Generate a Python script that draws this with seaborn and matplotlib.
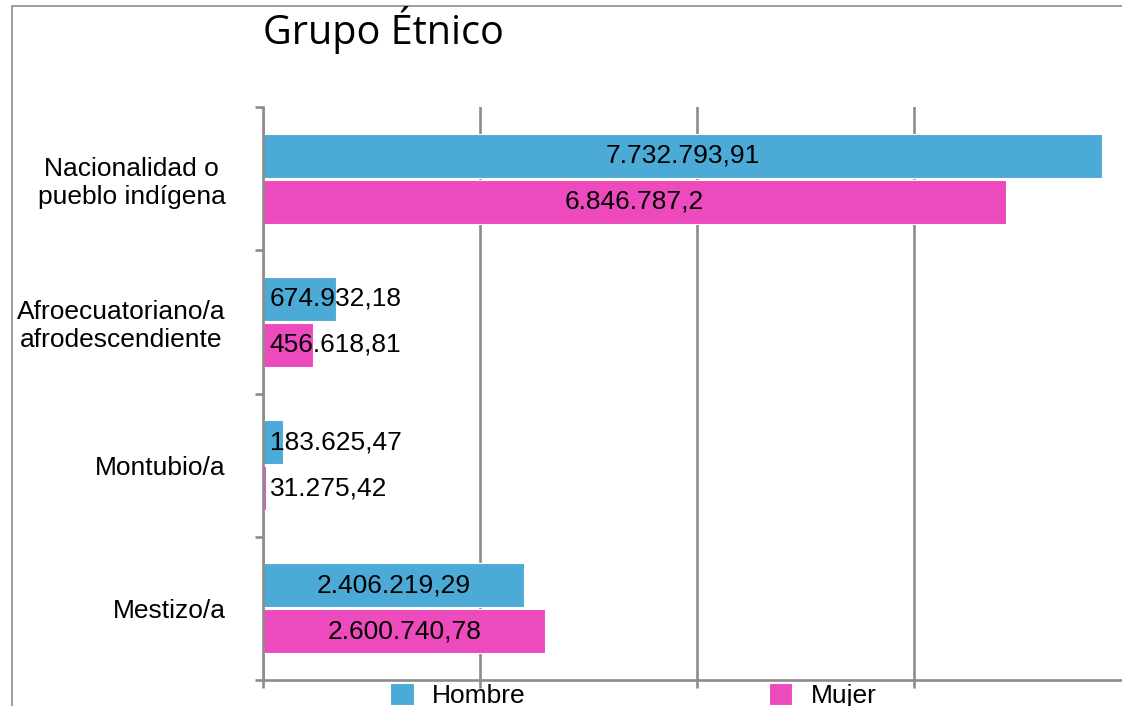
import numpy as np
import pandas as pd
import matplotlib
matplotlib.use("Agg")
import matplotlib.pyplot as plt
from matplotlib.patches import Rectangle
from matplotlib.ticker import FixedLocator
import seaborn as sns

# ------------------------------------------------------
# Data
# ------------------------------------------------------
categories = ["Nacionalidad o\npueblo indígena", "Afroecuatoriano/a\nafrodescendiente",
              "Montubio/a", "Mestizo/a"]
hombre = [7732793.91, 674932.18, 183625.47, 2406219.29]
mujer = [6846787.20, 456618.81, 31275.42, 2600740.78]
series = ["Hombre", "Mujer"]
colors = {"Hombre": "#4BAAD6", "Mujer": "#EC4ABD"}

df = pd.DataFrame({
    "grupo": categories * 2,
    "sexo": ["Hombre"] * 4 + ["Mujer"] * 4,
    "valor": hombre + mujer,
})


def es_format(v):
    s = f"{v:,.2f}".rstrip("0").rstrip(".")
    return s.replace(",", "X").replace(".", ",").replace("X", ".")


# ------------------------------------------------------
# Figure
# ------------------------------------------------------
sns.set_theme(style="white")
plt.rcParams["font.family"] = ["Liberation Sans", "DejaVu Sans"]
plt.rcParams["text.color"] = "black"
plt.rcParams["ytick.labelcolor"] = "black"

W, H = 1122, 706
fig = plt.figure(figsize=(W / 100, H / 100), dpi=100)
ax = fig.add_axes([263 / W, 1 - 680 / H, (1131 - 263) / W, (680 - 107) / H])

grid_c = "#8c8c8c"
fs = 19
ax.set_xlim(0, 8_000_000)
ax.set_axisbelow(True)
ax.xaxis.grid(True, color=grid_c, lw=1.9)

sns.barplot(data=df, y="grupo", x="valor", hue="sexo", orient="h",
            palette=colors, saturation=1, width=0.64, gap=0.04, ax=ax, legend=True,
            edgecolor="white", linewidth=0.8)
ax.set_ylim(3.5, -0.5)

# value labels: centred when the bar is wide, else from the bar start
for cont in ax.containers:
    for p in cont.patches:
        v = p.get_width()
        yc = p.get_y() + p.get_height() / 2
        if v >= 1_000_000:
            ax.text(v / 2, yc, es_format(v), ha="center", va="center", fontsize=fs, color="black")
        else:
            ax.text(60_000, yc, es_format(v), ha="left", va="center", fontsize=fs, color="black")

# axes styling
ax.set_xlabel("")
ax.set_ylabel("")
for s in ["top", "right"]:
    ax.spines[s].set_visible(False)
for s in ["left", "bottom"]:
    ax.spines[s].set_color(grid_c)
    ax.spines[s].set_linewidth(1.9)

ax.set_xticks([0, 2_000_000, 4_000_000, 6_000_000, 8_000_000])
ax.set_xticklabels([])
ax.tick_params(axis="x", bottom=True, length=6, width=1.9, color=grid_c, direction="out")
ax.yaxis.set_minor_locator(FixedLocator([-0.5, 0.5, 1.5, 2.5, 3.5]))
ax.tick_params(axis="y", which="minor", left=True, length=6, width=1.9, color=grid_c)
ax.tick_params(axis="y", which="major", left=False, length=0, pad=27, labelsize=fs,
               labelcolor="black")
for t in ax.get_yticklabels():
    t.set_multialignment("center")

# legend
handles, labels = ax.get_legend_handles_labels()
ax.get_legend().remove()
fig.legend(handles, labels, loc="upper left", bbox_to_anchor=(390 / W, 1 - 683 / H),
           ncol=2, frameon=False, fontsize=fs, handlelength=0.9, handleheight=0.9,
           handletextpad=0.7, columnspacing=9.2, borderpad=0, borderaxespad=0)

# title
fig.text(263 / W, 1 - 6 / H, "Grupo Étnico", ha="left", va="top", color="black",
         fontsize=28.5, family=["Open Sans", "DejaVu Sans"])

# outer border
fig.add_artist(Rectangle((12 / W, -0.5), 1.5, 1.5 - 6 / H, transform=fig.transFigure,
                         fill=False, edgecolor="#8c8c8c", lw=1.2, clip_on=False))

fig.savefig("out.png", dpi=100)
